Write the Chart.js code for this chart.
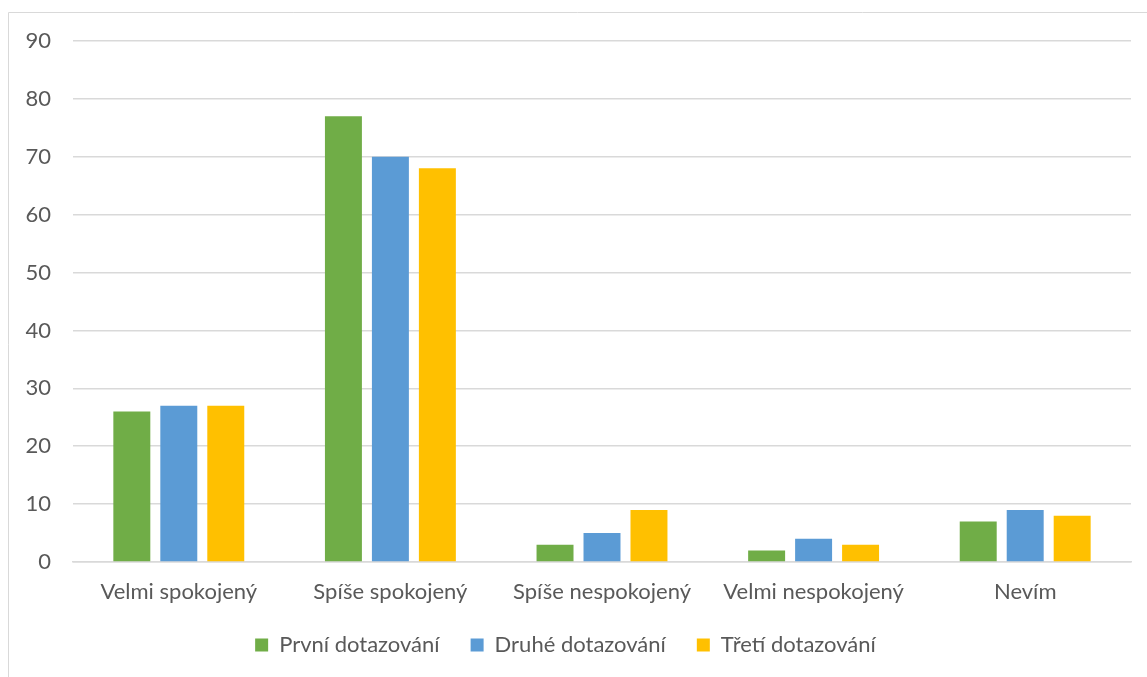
<!DOCTYPE html>
<html>
<head>
<meta charset="utf-8">
<script src="https://cdn.jsdelivr.net/npm/chart.js@4"></script>
<style>
    html, body { margin: 0; padding: 0; background: #fff; }
    #wrap { position: relative; width: 1147px; height: 677px; }
</style>
</head>
<body>
<div id="wrap"><canvas id="spokojenostChart" width="1147" height="677"></canvas></div>
<script>
// Kategorie odpovědí
const kategorie = ['Velmi spokojený', 'Spíše spokojený', 'Spíše nespokojený', 'Velmi nespokojený', 'Nevím'];

// Hodnoty pro jednotlivá dotazování
const prvni = [26, 77, 3, 2, 7];
const druhe = [27, 70, 5, 4, 9];
const treti = [27, 68, 9, 3, 8];

const nazvySerii = ['První dotazování', 'Druhé dotazování', 'Třetí dotazování'];
const barvy = ['#70AD47', '#5B9BD5', '#FFC000'];

// Rámeček kolem grafu (jen levá a horní hrana jsou vidět)
const ramecek = {
    id: 'ramecek',
    beforeDraw(chart) {
        const ctx = chart.ctx;
        ctx.save();
        ctx.strokeStyle = '#d9d9d9';
        ctx.lineWidth = 1;
        ctx.beginPath();
        ctx.moveTo(8.5, 677);
        ctx.lineTo(8.5, 12.5);
        ctx.lineTo(1147, 12.5);
        ctx.stroke();
        ctx.restore();
    }
};

const ctx = document.getElementById('spokojenostChart').getContext('2d');

new Chart(ctx, {
    type: 'bar',
    data: {
        labels: kategorie,
        datasets: [
            { label: nazvySerii[0], data: prvni, backgroundColor: barvy[0] },
            { label: nazvySerii[1], data: druhe, backgroundColor: barvy[1] },
            { label: nazvySerii[2], data: treti, backgroundColor: barvy[2] }
        ]
    },
    options: {
        responsive: false,
        animation: false,
        categoryPercentage: 0.666,
        barPercentage: 0.787,
        layout: {
            padding: { left: 0, right: 16, top: 41, bottom: 11 }
        },
        plugins: {
            legend: {
                position: 'bottom',
                labels: {
                    boxWidth: 13,
                    boxHeight: 13,
                    padding: 31,
                    color: '#595959',
                    font: { family: 'Lato', size: 22 }
                }
            },
            tooltip: { enabled: false }
        },
        scales: {
            x: {
                afterFit: function(scale) { scale.height = 41; },
                grid: { display: false, drawTicks: false },
                border: { color: '#d9d9d9', width: 1.5 },
                ticks: {
                    color: '#595959',
                    padding: 17,
                    font: { family: 'Lato', size: 22 }
                }
            },
            y: {
                min: 0,
                max: 90,
                afterFit: function(scale) { scale.width = 73; },
                grid: { color: '#d9d9d9', lineWidth: 1.5, drawTicks: false },
                border: { display: false },
                ticks: {
                    stepSize: 10,
                    color: '#595959',
                    padding: 22,
                    font: { family: 'Lato', size: 22 }
                }
            }
        }
    },
    plugins: [ramecek]
});
</script>
</body>
</html>
